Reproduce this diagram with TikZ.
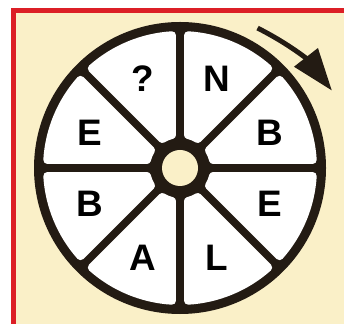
\documentclass[tikz,border=0pt]{standalone}
\usepackage{fontspec}
\setmainfont{Liberation Sans}
\usepackage{tikz}
\usetikzlibrary{arrows.meta}

\definecolor{framered}{HTML}{DC1F26}
\definecolor{cream}{HTML}{FAF0C8}
\definecolor{wheeldark}{HTML}{231B13}

\begin{document}
\begin{tikzpicture}[x=0.02cm,y=0.02cm]
        \tikzset{sector/.style={fill=white, draw=white, line width=4.5pt, line join=round},
                 letter/.style={inner sep=0pt, font=\fontsize{21}{21}\selectfont\bfseries, text=black}}

	%---BACKGROUND---
        \useasboundingbox (0,0) rectangle (344,324);
        \fill[white] (0,0) rectangle (344,324);
        \fill[framered] (11,0) rectangle (344,316);
        \fill[cream] (16,0) rectangle (344,311);

        \begin{scope}[shift={(180,156)}]
	%---WHEEL---
        \fill[wheeldark] (0,0) circle[radius=146];
        \pgfmathsetmacro{\di}{asin(8/34)}
        \pgfmathsetmacro{\do}{asin(8/133)}
        \foreach \a in {0,45,...,315}
            \filldraw[sector] ({\a+\di}:34) -- ({\a+\do}:133)
                arc[start angle={\a+\do}, end angle={\a+45-\do}, radius=133]
                -- ({\a+45-\di}:34)
                arc[start angle={\a+45-\di}, end angle={\a+\di}, radius=34] -- cycle;
        \fill[cream] (0,0) circle[radius=18];

	%---NODES---
        \node[letter] (1) at (112.5:97) {?};
        \node[letter] (2) at (67.5:97) {N};
        \node[letter] (3) at (21.5:97) {B};
        \node[letter] (4) at (-21.5:97) {E};
        \node[letter] (5) at (-67.5:97) {L};
        \node[letter] (6) at (-112.5:97) {A};
        \node[letter] (7) at (-158.5:97) {B};
        \node[letter] (8) at (158.5:97) {E};

	%---ARROW---
        \coordinate (s) at (61:160);
        \coordinate (t) at (27:170.5);
        \draw[wheeldark, line width=2.8pt, -{Triangle[length=24pt, width=16.5pt]}]
            (s) to[out=-27, in=128] (t);
        \end{scope}
    \end{tikzpicture}
\end{document}
